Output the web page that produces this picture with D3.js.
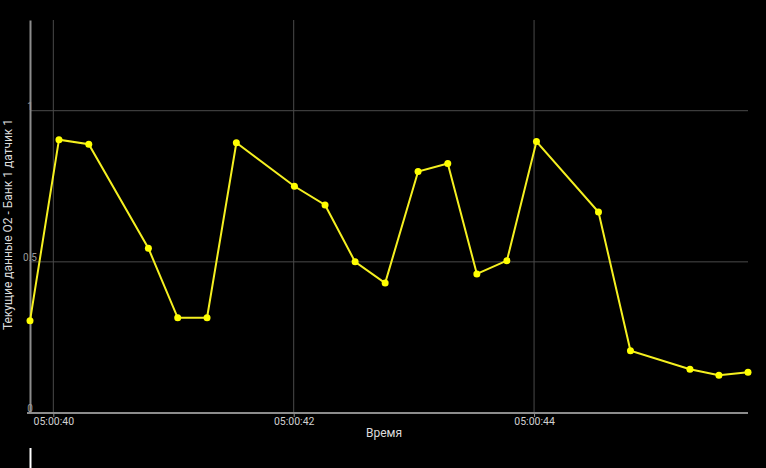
<!DOCTYPE html>
<html><head><meta charset="utf-8">
<script src="https://cdn.jsdelivr.net/npm/d3@7"></script>
<style>
html,body{margin:0;padding:0;background:#000;}
svg{display:block;font-family:Roboto, "Noto Sans", sans-serif;}
</style></head>
<body><svg id="c" width="766" height="468"></svg>
<script>
const times = ["05:00:39.806","05:00:40.047","05:00:40.295","05:00:40.791","05:00:41.035","05:00:41.279","05:00:41.523","05:00:42.006","05:00:42.261","05:00:42.511","05:00:42.761","05:00:43.035","05:00:43.282","05:00:43.524","05:00:43.774","05:00:44.020","05:00:44.536","05:00:44.802","05:00:45.297","05:00:45.538","05:00:45.780"];
const values = [0.305,0.904,0.889,0.545,0.315,0.315,0.894,0.750,0.688,0.500,0.430,0.799,0.825,0.460,0.504,0.898,0.665,0.206,0.145,0.125,0.135];
const xTicks = ["05:00:40","05:00:42","05:00:44"];
const yTicks = [0, 0.5, 1];
const xDomain = ["05:00:39.806","05:00:45.780"];
const yDomain = [0, 1.3];
const yTitle = "Текущие данные O2 - Банк 1 датчик 1";
const xTitle = "Время";

const parse = s => { const [h,m,sec] = s.split(":"); return new Date(2000,0,1,+h,+m,0, Math.round(parseFloat(sec)*1000)); };
const data = times.map((t,i)=>({t:parse(t), v:values[i]}));

const svg = d3.select("#c");
const L = 30, R = 748, T = 20, B = 413;
const x = d3.scaleTime().domain(xDomain.map(parse)).range([L, R]);
const y = d3.scaleLinear().domain(yDomain).range([B, T]);

// grid
svg.append("g").selectAll("line.v").data(xTicks.map(parse)).enter().append("line")
  .attr("x1", d=>x(d)).attr("x2", d=>x(d)).attr("y1", T).attr("y2", B)
  .attr("stroke", "#4a4a4a").attr("stroke-width", 1);
svg.append("g").selectAll("line.h").data(yTicks.filter(d=>d>0)).enter().append("line")
  .attr("x1", L).attr("x2", R).attr("y1", d=>y(d)).attr("y2", d=>y(d))
  .attr("stroke", "#4a4a4a").attr("stroke-width", 1);

// axes
const xAxis = d3.axisBottom(x).tickValues(xTicks.map(parse)).tickFormat(d3.timeFormat("%H:%M:%S")).tickSize(4).tickSizeOuter(0);
const gx = svg.append("g").attr("transform", `translate(0,${B})`).call(xAxis);
gx.select(".domain").attr("stroke", "#8c8c8c").attr("stroke-width", 2).attr("d", `M${L-3},0H${R}`);
gx.selectAll(".tick line").attr("stroke", "#8c8c8c");
gx.selectAll(".tick text").attr("fill", "#d0d0d0").attr("font-size", 10.5).attr("font-family","Roboto").attr("dy", "0.6em").attr("y", 6);

const yAxis = d3.axisLeft(y).tickValues(yTicks).tickFormat(d3.format("")).tickSize(0);
const gy = svg.append("g").attr("transform", `translate(${L},0)`).call(yAxis);
gy.select(".domain").attr("stroke", "#8c8c8c").attr("stroke-width", 2);
gy.selectAll(".tick text").attr("fill", "#9a9a9a").attr("font-size", 10).attr("font-family","Roboto")
  .attr("text-anchor","middle").attr("x", 0).attr("dy", "-0.15em");

// titles
svg.append("text").attr("x", 384).attr("y", 437).attr("text-anchor","middle")
  .attr("fill", "#dcdcdc").attr("font-size", 12).text(xTitle);
svg.append("text").attr("transform", `translate(12,${(T+B)/2+8}) rotate(-90)`).attr("text-anchor","middle")
  .attr("fill", "#dcdcdc").attr("font-size", 12).text(yTitle);

// line
const line = d3.line().x(d=>x(d.t)).y(d=>y(d.v));
svg.append("path").datum(data).attr("d", line).attr("fill","none")
  .attr("stroke", "#f5f020").attr("stroke-width", 2);
svg.append("g").selectAll("circle").data(data).enter().append("circle")
  .attr("cx", d=>x(d.t)).attr("cy", d=>y(d.v)).attr("r", 3.5).attr("fill", "#ffff00");

// cursor
svg.append("line").attr("x1", L+0.5).attr("x2", L+0.5).attr("y1", 448).attr("y2", 468)
  .attr("stroke", "#fff").attr("stroke-width", 2);
</script></body></html>
